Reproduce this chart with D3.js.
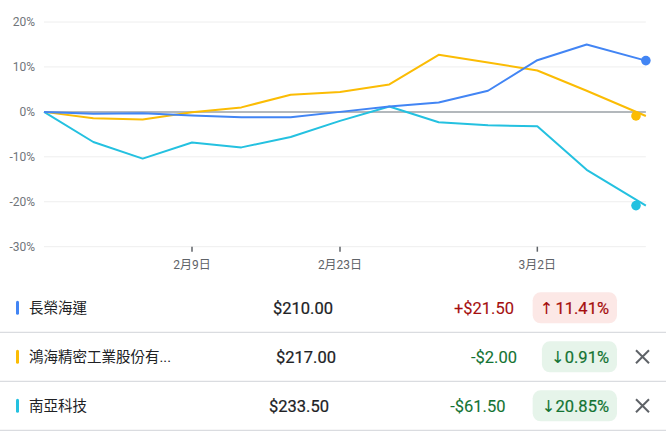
<!DOCTYPE html>
<html><head><meta charset="utf-8">
<script src="https://cdn.jsdelivr.net/npm/d3@7"></script>
<style>
html,body{margin:0;padding:0;background:#fff;overflow:hidden}
svg{display:block;font-family:Roboto,"Noto Sans CJK TC",sans-serif}
</style></head><body>
<svg id="c" width="666" height="431"></svg>
<script>
// ---- data ----
const dayIndex = [0,1,2,3,4,5,6,7,8,9,10,11,12.2];
const seriesNames = ["長榮海運","鴻海精密工業股份有...","南亞科技"];
const blueValues = [0,-0.4,-0.3,-0.8,-1.2,-1.2,0,1.2,2.1,4.7,11.5,15.0,11.41];
const yellowValues = [0,-1.4,-1.7,-0.1,1.0,3.8,4.4,6.1,12.7,11.0,9.2,4.7,-0.91];
const cyanValues = [0,-6.7,-10.4,-6.8,-7.9,-5.6,-2.0,1.2,-2.3,-3.0,-3.2,-12.9,-20.85];
const yTicks = [20,10,0,-10,-20,-30];
const xTickIndex = [3,6,10];
const xTickLabels = ["2月9日","2月23日","3月2日"];
const prices = ["$210.00","$217.00","$233.50"];
const changes = ["+$21.50","-$2.00","-$61.50"];
const pctArrows = ["↑","↓","↓"];
const pctChanges = ["11.41%","0.91%","20.85%"];
const colors = ["#4285f4","#fbbc04","#24c1e0"];

// ---- layout ----
const svg = d3.select("#c");
const x = d3.scaleLinear().domain([0,12]).range([44,636]);
const y = d3.scaleLinear().domain([-30,20]).range([246.7,22]);
const xEnd = x(dayIndex[dayIndex.length-1]);

// gridlines
svg.append("g").selectAll("line").data(yTicks.filter(v=>v!==0)).join("line")
  .attr("x1",x(0)).attr("x2",xEnd)
  .attr("y1",d=>y(d)).attr("y2",d=>y(d))
  .attr("stroke","#eeeeee").attr("stroke-width",1);

// y labels
svg.append("g").selectAll("text").data(yTicks).join("text")
  .attr("x",35).attr("y",d=>y(d)).attr("dy","0.35em")
  .attr("text-anchor","end").attr("font-size",12).attr("fill","#70757a")
  .text(d=>d+"%");

// x ticks
const xt = svg.append("g");
xt.selectAll("line").data(xTickIndex).join("line")
  .attr("x1",d=>x(d)).attr("x2",d=>x(d))
  .attr("y1",y(-30)).attr("y2",y(-30)+5)
  .attr("stroke","#5f6368").attr("stroke-width",1.5);
xt.selectAll("text").data(xTickIndex).join("text")
  .attr("x",d=>x(d)).attr("y",y(-30)+22)
  .attr("text-anchor","middle").attr("font-size",12).attr("fill","#5f6368")
  .text((d,i)=>xTickLabels[i]);

// zero line
svg.append("line").attr("x1",x(0)).attr("x2",xEnd)
  .attr("y1",y(0)).attr("y2",y(0))
  .attr("stroke","#9aa0a6").attr("stroke-width",1.5);

// series lines
const allSeries = [blueValues, yellowValues, cyanValues];
const line = d3.line().x((d,i)=>x(dayIndex[i])).y(d=>y(d));
const drawOrder = [2,1,0];
svg.append("g").selectAll("path").data(drawOrder).join("path")
  .attr("d",k=>line(allSeries[k]))
  .attr("fill","none").attr("stroke",k=>colors[k])
  .attr("stroke-width",2).attr("stroke-linejoin","round");

// end dots
const last = dayIndex.length-1;
svg.append("g").selectAll("circle").data([0,1,2]).join("circle")
  .attr("cx",k=>k===0 ? x(dayIndex[last]) : x(12))
  .attr("cy",k=>y(allSeries[k][last]))
  .attr("r",4.8).attr("fill",k=>colors[k]);

// ---- table ----
const rowBottom = i => 332.3 + i*49;
const priceX = [303,306,299];
const changeX = [514,517,505.5];
[0,1,2].forEach(i=>{
  const cy = rowBottom(i) - 24.5;
  const g = svg.append("g");
  g.append("rect").attr("x",16).attr("y",cy-7).attr("width",3).attr("height",14)
    .attr("rx",1.5).attr("fill",colors[i]);
  g.append("text").attr("x",29).attr("y",cy).attr("dy","0.35em")
    .attr("font-size",14.5).attr("fill","#202124").text(seriesNames[i]);
  g.append("text").attr("x",priceX[i]).attr("y",cy).attr("dy","0.35em")
    .attr("text-anchor","middle").attr("font-size",16.5).attr("font-weight",400)
    .attr("fill","#202124").attr("stroke","#202124").attr("stroke-width",0.22)
    .text(prices[i]);
  const up = i===0;
  const fg = up?"#a50e0e":"#137333";
  g.append("text").attr("x",changeX[i]).attr("y",cy).attr("dy","0.35em")
    .attr("text-anchor","end").attr("font-size",16.5).attr("font-weight",400)
    .attr("fill",fg).attr("stroke",fg).attr("stroke-width",0.1).text(changes[i]);
  const badge = g.append("rect");
  const bt = g.append("text").attr("x",609).attr("y",cy).attr("dy","0.35em")
    .attr("text-anchor","end").attr("font-size",16.5).attr("font-weight",400)
    .attr("fill",fg);
  bt.append("tspan").attr("font-size",16.5).attr("font-family","'DejaVu Sans',sans-serif")
    .text(pctArrows[i]);
  bt.append("tspan").attr("dx",up?2:0).attr("stroke",fg).attr("stroke-width",0.2)
    .text(pctChanges[i]);
  const w = bt.node().getComputedTextLength();
  badge.attr("x",609-w-9).attr("y",cy-15.5).attr("width",w+17).attr("height",31)
    .attr("rx",8).attr("fill",up?"#fce8e6":"#e6f4ea");
  if(!up){
    g.append("path").attr("d",`M636,${cy-6.5}L649,${cy+6.5}M649,${cy-6.5}L636,${cy+6.5}`)
      .attr("stroke","#5f6368").attr("stroke-width",2);
  }
  g.append("line").attr("x1",0).attr("x2",666)
    .attr("y1",rowBottom(i)).attr("y2",rowBottom(i))
    .attr("stroke","#dadce0").attr("stroke-width",1.2);
});
</script>
</body></html>
